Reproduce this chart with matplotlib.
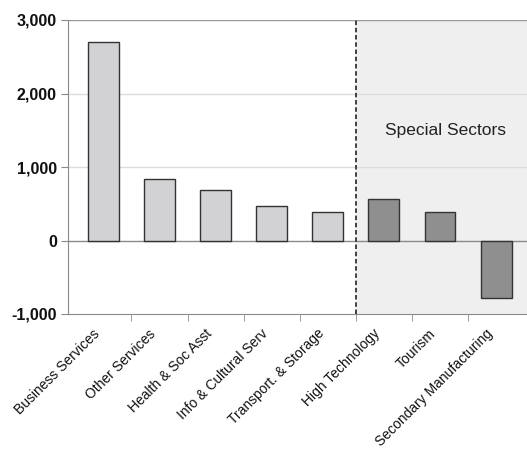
import numpy as np
import matplotlib.pyplot as plt
import matplotlib.transforms as mtransforms

sectors = ['Business Services', 'Other Services', 'Health & Soc Asst', 'Info & Cultural Serv',
           'Transport. & Storage', 'High Technology', 'Tourism', 'Secondary Manufacturing']
values = [2700, 830, 690, 475, 390, 565, 390, -780]
special = [False, False, False, False, False, True, True, True]
y_ticks = [-1000, 0, 1000, 2000, 3000]

plt.rcParams['font.family'] = ['Liberation Sans', 'DejaVu Sans']

fig = plt.figure(figsize=(5.27, 4.51), dpi=100)
ax = fig.add_axes([68/527, 1 - 314/451, 1 - 68/527, 294/451])

x = np.arange(len(sectors))
colors = ['#8f8f8f' if s else '#d2d2d4' for s in special]
ax.bar(x, values, width=0.55, color=colors, edgecolor='#333333', linewidth=1, zorder=3)

# shaded special sectors area
ax.axvspan(4.5, 7.6, color='#efefef', zorder=0)
ax.axvline(4.5, color='#333333', linestyle=(0, (2.5, 1.5)), linewidth=1.3, zorder=4)
ax.text(6.1, 1500, 'Special Sectors', ha='center', va='center', fontsize=12.5, color='#222222')

ax.set_xlim(-0.63, 7.55)
ax.set_ylim(-1000, 3000)
for v in [1000, 2000]:
    ax.axhline(v, color='#dcdcdc', linewidth=1, zorder=1)
ax.axhline(0, color='#8a8a8a', linewidth=1, zorder=2)
ax.axhline(3000, color='#9a9a9a', linewidth=1, zorder=2)

ax.set_yticks(y_ticks)
ax.set_yticklabels([f'{v:,}' for v in y_ticks], fontweight='bold', fontsize=11.5, color='#111111')
ax.set_xticks(x)
ax.set_xticklabels(sectors, rotation=45, ha='right', rotation_mode='anchor', fontsize=10,
                   color='#111111')
ax.tick_params(axis='x', length=0, pad=9)
shift = mtransforms.ScaledTranslation(-11/100, 0, fig.dpi_scale_trans)
for lbl in ax.get_xticklabels():
    lbl.set_transform(lbl.get_transform() + shift)
ax.set_xticks(x[:-1] + 0.5, minor=True)
ax.tick_params(axis='x', which='minor', length=5, color='#8a8a8a')
ax.tick_params(axis='y', length=5, color='#8a8a8a', pad=3)

for side in ['top', 'right']:
    ax.spines[side].set_visible(False)
ax.spines['left'].set_color('#8a8a8a')
ax.spines['bottom'].set_color('#8a8a8a')

fig.savefig('out.png', dpi=100)
